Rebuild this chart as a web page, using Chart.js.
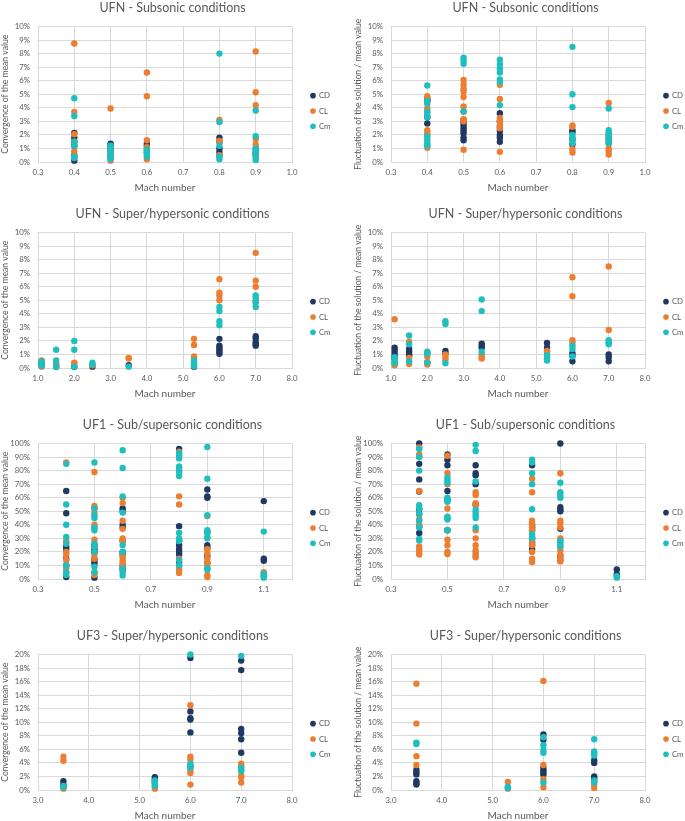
<!DOCTYPE html>
<html>
<head>
<meta charset="utf-8">
<script src="https://cdn.jsdelivr.net/npm/chart.js@4.4.0/dist/chart.umd.min.js"></script>
<style>
  body { margin: 0; background: #fff; width: 685px; height: 821px; overflow: hidden; position: relative; }
  .panel { position: absolute; width: 345px; height: 200px; }
</style>
</head>
<body>
<div class="panel" style="left:0;top:0"><canvas id="c1"></canvas></div>
<div class="panel" style="left:353px;top:0"><canvas id="c2"></canvas></div>
<div class="panel" style="left:0;top:206px"><canvas id="c3"></canvas></div>
<div class="panel" style="left:353px;top:206px"><canvas id="c4"></canvas></div>
<div class="panel" style="left:0;top:417px"><canvas id="c5"></canvas></div>
<div class="panel" style="left:353px;top:417px"><canvas id="c6"></canvas></div>
<div class="panel" style="left:0;top:628px"><canvas id="c7"></canvas></div>
<div class="panel" style="left:353px;top:628px"><canvas id="c8"></canvas></div>
<script>
// Mach numbers where runs were made
const subMach = [0.4, 0.5, 0.6, 0.8, 0.9];
const hypMach = [1.1, 1.5, 2.0, 2.5, 3.5, 5.3, 6.0, 7.0];
const uf1Mach = [0.4, 0.5, 0.6, 0.8, 0.9, 1.1];
const uf3Mach = [3.5, 5.3, 6.0, 7.0];

// x axis ticks
const subTicks = [0.3, 0.4, 0.5, 0.6, 0.7, 0.8, 0.9, 1.0];
const subLabels = ['0.3', '0.4', '0.5', '0.6', '0.7', '0.8', '0.9', '1.0'];
const hypTicks = [1, 2, 3, 4, 5, 6, 7, 8];
const hypLabels = ['1.0', '2.0', '3.0', '4.0', '5.0', '6.0', '7.0', '8.0'];
const uf1Ticks = [0.3, 0.5, 0.7, 0.9, 1.1, 1.2];
const uf1Labels = ['0.3', '0.5', '0.7', '0.9', '1.1', ''];
const uf3Ticks = [3, 4, 5, 6, 7, 8];
const uf3Labels = ['3.0', '4.0', '5.0', '6.0', '7.0', '8.0'];

// values in %, one list per Mach number
// UFN subsonic - convergence of the mean value
const subConvCD = [[2.15, 1.8, 1.5, 1.2, 0.5, 0.1], [1.35, 1.2, 1.0, 0.8, 0.5, 0.3], [1.35, 1.2, 0.9, 0.7], [1.8, 1.5, 1.0, 0.75, 0.5], [1.0, 0.7, 0.5]];
const subConvCL = [[8.75, 3.7, 2.05, 1.5, 0.8, 0.4], [3.95, 0.5, 0.1], [6.6, 4.85, 1.6, 1.1, 0.2], [3.1, 1.55, 0.5], [8.15, 5.15, 4.2, 1.7, 1.3, 0.5]];
const subConvCm = [[4.7, 3.4, 1.5, 1.2, 0.4, 0.3], [1.2, 1.0, 0.8, 0.6, 0.4, 0.2], [0.9, 0.7, 0.5, 0.4], [8.0, 2.95, 1.2, 0.4, 0.2], [3.8, 1.9, 1.0, 0.8, 0.6, 0.3, 0.15]];

// UFN subsonic - fluctuation
const subFlucCD = [[4.7, 4.5, 3.3, 2.85], [3.1, 2.9, 2.7, 2.5, 2.3, 2.1, 1.8, 1.6], [3.6, 3.0, 2.6, 2.3, 2.0, 1.8, 1.5], [2.35, 2.2, 1.7, 1.3], [2.0, 1.7, 1.4]];
const subFlucCL = [[4.85, 4.6, 3.95, 3.7, 2.35, 2.2, 2.0, 1.05], [6.05, 5.7, 5.4, 5.2, 4.8, 4.1, 3.7, 3.15, 3.0, 0.9], [5.7, 4.65, 3.25, 3.0, 2.7, 2.5, 0.75], [2.7, 2.6, 0.95, 0.7], [4.35, 1.0, 0.8, 0.55]];
const subFlucCm = [[5.65, 4.5, 4.3, 3.7, 3.5, 3.3, 1.9, 1.7, 1.5, 1.3, 1.2], [7.7, 7.5, 7.25, 3.75], [7.55, 7.2, 6.9, 6.6, 6.1, 5.9, 4.2], [8.5, 5.0, 4.05, 2.0, 1.8, 1.6, 1.4], [3.95, 2.35, 2.2, 2.0, 1.8, 1.6, 1.4]];

// UFN super/hypersonic - convergence
const hypConvCD = [[0.4, 0.2], [0.3, 0.1], [0.1], [0.1], [0.2], [0.1], [2.15, 1.65, 1.5, 1.35, 1.2, 1.05], [2.35, 2.2, 1.9, 1.75, 1.65]];
const hypConvCL = [[0.55, 0.1], [0.3], [0.4, 0.35], [0.2], [0.75, 0.7], [2.15, 1.7, 0.85, 0.7], [6.55, 5.55, 5.35, 5.0], [8.5, 6.45, 6.0, 5.0, 4.9]];
const hypConvCm = [[0.5, 0.3, 0.15], [1.35, 0.55, 0.1], [2.0, 1.35, 0.1], [0.4, 0.25], [0.1], [0.55, 0.4, 0.25, 0.15], [4.5, 4.2, 3.45, 3.15], [5.35, 5.2, 4.85, 4.5]];

// UFN super/hypersonic - fluctuation
const hypFlucCD = [[1.5, 1.3, 1.1, 0.9, 0.7], [1.4, 1.2, 1.0, 0.9], [1.1, 0.4], [1.25, 1.1], [1.8, 1.65, 1.5], [1.85, 1.5, 1.2], [1.1, 0.9, 0.5], [1.0, 0.8, 0.5]];
const hypFlucCL = [[3.6, 0.35, 0.2], [1.95, 0.75, 0.3], [0.85, 0.45, 0.25], [1.0, 0.8, 0.6], [1.0, 0.8, 0.7], [1.25], [6.7, 5.3, 2.05, 1.85], [7.5, 2.8]];
const hypFlucCm = [[0.8, 0.6, 0.45, 0.35], [2.4, 1.75, 0.5], [1.2, 1.05, 0.4], [3.45, 3.25, 0.35], [5.05, 4.2, 1.2], [0.95, 0.8, 0.65, 0.55], [1.65, 1.4, 0.85], [2.05, 1.9, 1.75]];

// UF1 sub/supersonic - convergence
const uf1ConvCD = [[65, 48.5, 24, 22, 15, 10, 1.5], [25, 22, 20, 15, 13, 11, 1], [52, 50, 40, 38, 28, 20, 18, 10, 7], [96, 39, 28, 25, 22, 20, 18, 12], [66, 61, 60, 35, 25, 23, 17, 12], [57.5, 15, 13.5]];
const uf1ConvCL = [[86, 28, 27, 20, 18, 14, 8, 5], [79, 54, 52, 49, 40, 38, 29, 18, 15, 5, 3], [60, 56, 43, 37, 30, 28, 17, 15, 13, 11, 9], [94, 91, 80, 61, 55, 15, 10, 8, 6, 4.5], [46.5, 22, 19, 15, 12, 10, 3, 1.5], [5, 3]];
const uf1ConvCm = [[85, 55, 40, 31, 26, 10, 5, 3], [86, 52, 47, 45, 38, 36, 26, 24, 20, 9, 5], [95, 82, 61, 49, 25, 20, 8, 5, 2.5], [93, 91, 89, 83, 82, 79, 76, 34, 30, 28, 14, 10], [97.5, 74, 47, 36, 34, 31, 30, 8, 7], [35, 4, 3, 2, 1]];

// UF1 sub/supersonic - fluctuation
const uf1FlucCD = [[100, 85, 73.5, 64.5, 51.5, 48, 39, 34], [92, 88, 84, 65, 59, 36], [84, 78, 76.5, 70, 55], [84, 40, 38, 36, 30, 27, 25, 22], [100, 53, 51, 50, 37, 17, 14], [7, 3.5]];
const uf1FlucCL = [[97, 92, 90, 65, 44, 40, 24, 22, 20, 18], [91, 78, 70, 52, 36, 29, 25, 20, 18.5], [64, 62, 56, 54, 36, 30, 25, 21, 19, 17, 16], [74, 64, 43, 40, 38, 36, 28, 25, 20, 15, 12.5], [78, 43, 41, 38, 30, 28, 24, 21, 18, 15, 13], []];
const uf1FlucCm = [[96, 90, 80, 54.5, 52, 48, 43, 38, 29.5, 28.5], [75, 73, 71, 60, 58, 57, 46, 45, 44, 36], [99, 94.5, 72, 51, 49, 47, 45, 38], [88, 86, 78, 70, 51.5, 33, 31, 30], [71, 64, 62, 60, 28, 26, 24], [2, 1]];

// UF3 super/hypersonic - convergence
const uf3ConvCD = [[1.3, 0.8, 0.5], [1.9, 1.6, 1.2], [19.5, 11.6, 10.6, 10.4, 8.5, 3.5], [19.1, 17.7, 9.0, 8.4, 7.5, 5.5]];
const uf3ConvCL = [[4.9, 4.3, 0.2], [0.5, 0.2], [12.5, 4.9, 4.5, 3.0, 2.5, 0.8], [3.9, 3.5, 2.1, 1.9, 1.1]];
const uf3ConvCm = [[0.6, 0.4], [1.4, 1.1, 0.9, 0.6], [20.0, 3.9, 3.6, 3.3], [19.8, 3.3, 3.0, 2.8]];

// UF3 super/hypersonic - fluctuation
const uf3FlucCD = [[3.0, 2.6, 2.3, 1.3, 1.0, 0.8], [], [8.2, 7.4, 3.3, 2.9, 2.6, 2.3], [4.4, 4.0, 2.0, 1.7]];
const uf3FlucCL = [[15.7, 9.8, 5.0, 3.7], [1.2, 0.2], [16.1, 3.7, 1.6, 0.4], [1.3, 0.8, 0.3]];
const uf3FlucCm = [[7.0, 6.8], [0.5, 0.3], [7.8, 6.6, 5.9, 5.5, 1.1], [7.5, 5.7, 5.4, 5.1, 1.4, 1.1]];

Chart.defaults.font.family = 'Lato, "Liberation Sans", sans-serif';
Chart.defaults.color = '#595959';
Chart.defaults.animation = false;

const gridColor = '#d9d9d9';

// fixes the legend box width so every plot area lines up,
// then nudges the legend a bit right and down like the original
const legendPlacement = {
    id: 'legendPlacement',
    beforeUpdate(chart) {
        const legend = chart.legend;
        if (legend && !legend._patched) {
            const fit = legend.fit;
            legend.fit = function () {
                fit.call(this);
                this.width = 53;
            };
            legend._patched = true;
        }
    },
    afterLayout(chart) {
        const legend = chart.legend;
        legend.left += 11.5;
        legend.top += 11;
        legend.bottom += 11;
    }
};

function toPoints(mach, rows) {
    return mach.flatMap((m, i) => rows[i].map(v => ({ x: m, y: v })));
}

function series(label, color, order, mach, rows) {
    return {
        label: label,
        data: toPoints(mach, rows),
        backgroundColor: color,
        borderColor: color,
        pointRadius: 3.2,
        pointHoverRadius: 3.2,
        borderWidth: 0,
        order: order,
        clip: false
    };
}

function makeChart(id, title, yTitle, mach, ticks, labels, yMax, yStep, cd, cl, cm) {
    const ctx = document.getElementById(id).getContext('2d');
    new Chart(ctx, {
        type: 'scatter',
        data: {
            datasets: [
                series('CD', '#203864', 3, mach, cd),
                series('CL', '#ed7d31', 2, mach, cl),
                series('Cm', '#1fbfbf', 1, mach, cm)
            ]
        },
        options: {
            responsive: true,
            maintainAspectRatio: false,
            layout: { padding: 0 },
            scales: {
                x: {
                    type: 'linear',
                    min: ticks[0],
                    max: ticks[ticks.length - 1],
                    afterBuildTicks: scale => { scale.ticks = ticks.map(v => ({ value: v })); },
                    afterFit: scale => { scale.height = 38; },
                    ticks: {
                        padding: 6,
                        font: { size: 7.8 },
                        callback: (v, i) => labels[i]
                    },
                    grid: { color: gridColor, drawTicks: false },
                    border: { color: gridColor },
                    title: { display: true, text: 'Mach number', font: { size: 10 }, padding: { top: 0, bottom: 6 } }
                },
                y: {
                    min: 0,
                    max: yMax,
                    afterFit: scale => { scale.width = 38; },
                    ticks: {
                        stepSize: yStep,
                        padding: 8,
                        font: { size: 7.8 },
                        callback: v => v + '%'
                    },
                    grid: { color: gridColor, drawTicks: false },
                    border: { display: false },
                    title: { display: true, text: yTitle, font: { size: 8.6 }, padding: 0 }
                }
            },
            plugins: {
                title: {
                    display: true,
                    text: title,
                    font: { size: 12.5, weight: 'normal' },
                    padding: { top: 0, bottom: 11.5 }
                },
                legend: {
                    position: 'right',
                    labels: {
                        usePointStyle: true,
                        pointStyle: 'circle',
                        boxWidth: 4,
                        boxHeight: 4,
                        padding: 7.5,
                        font: { size: 7.8 },
                        sort: (a, b) => a.datasetIndex - b.datasetIndex
                    }
                },
                tooltip: { enabled: false }
            }
        },
        plugins: [legendPlacement]
    });
}

const convTitle = 'Convergence of the mean value';
const flucTitle = 'Fluctuation of the solution / mean value';

makeChart('c1', 'UFN - Subsonic conditions', convTitle, subMach, subTicks, subLabels, 10, 1, subConvCD, subConvCL, subConvCm);
makeChart('c2', 'UFN - Subsonic conditions', flucTitle, subMach, subTicks, subLabels, 10, 1, subFlucCD, subFlucCL, subFlucCm);
makeChart('c3', 'UFN - Super/hypersonic conditions', convTitle, hypMach, hypTicks, hypLabels, 10, 1, hypConvCD, hypConvCL, hypConvCm);
makeChart('c4', 'UFN - Super/hypersonic conditions', flucTitle, hypMach, hypTicks, hypLabels, 10, 1, hypFlucCD, hypFlucCL, hypFlucCm);
makeChart('c5', 'UF1 - Sub/supersonic conditions', convTitle, uf1Mach, uf1Ticks, uf1Labels, 100, 10, uf1ConvCD, uf1ConvCL, uf1ConvCm);
makeChart('c6', 'UF1 - Sub/supersonic conditions', flucTitle, uf1Mach, uf1Ticks, uf1Labels, 100, 10, uf1FlucCD, uf1FlucCL, uf1FlucCm);
makeChart('c7', 'UF3 - Super/hypersonic conditions', convTitle, uf3Mach, uf3Ticks, uf3Labels, 20, 2, uf3ConvCD, uf3ConvCL, uf3ConvCm);
makeChart('c8', 'UF3 - Super/hypersonic conditions', flucTitle, uf3Mach, uf3Ticks, uf3Labels, 20, 2, uf3FlucCD, uf3FlucCL, uf3FlucCm);
</script>
</body>
</html>
